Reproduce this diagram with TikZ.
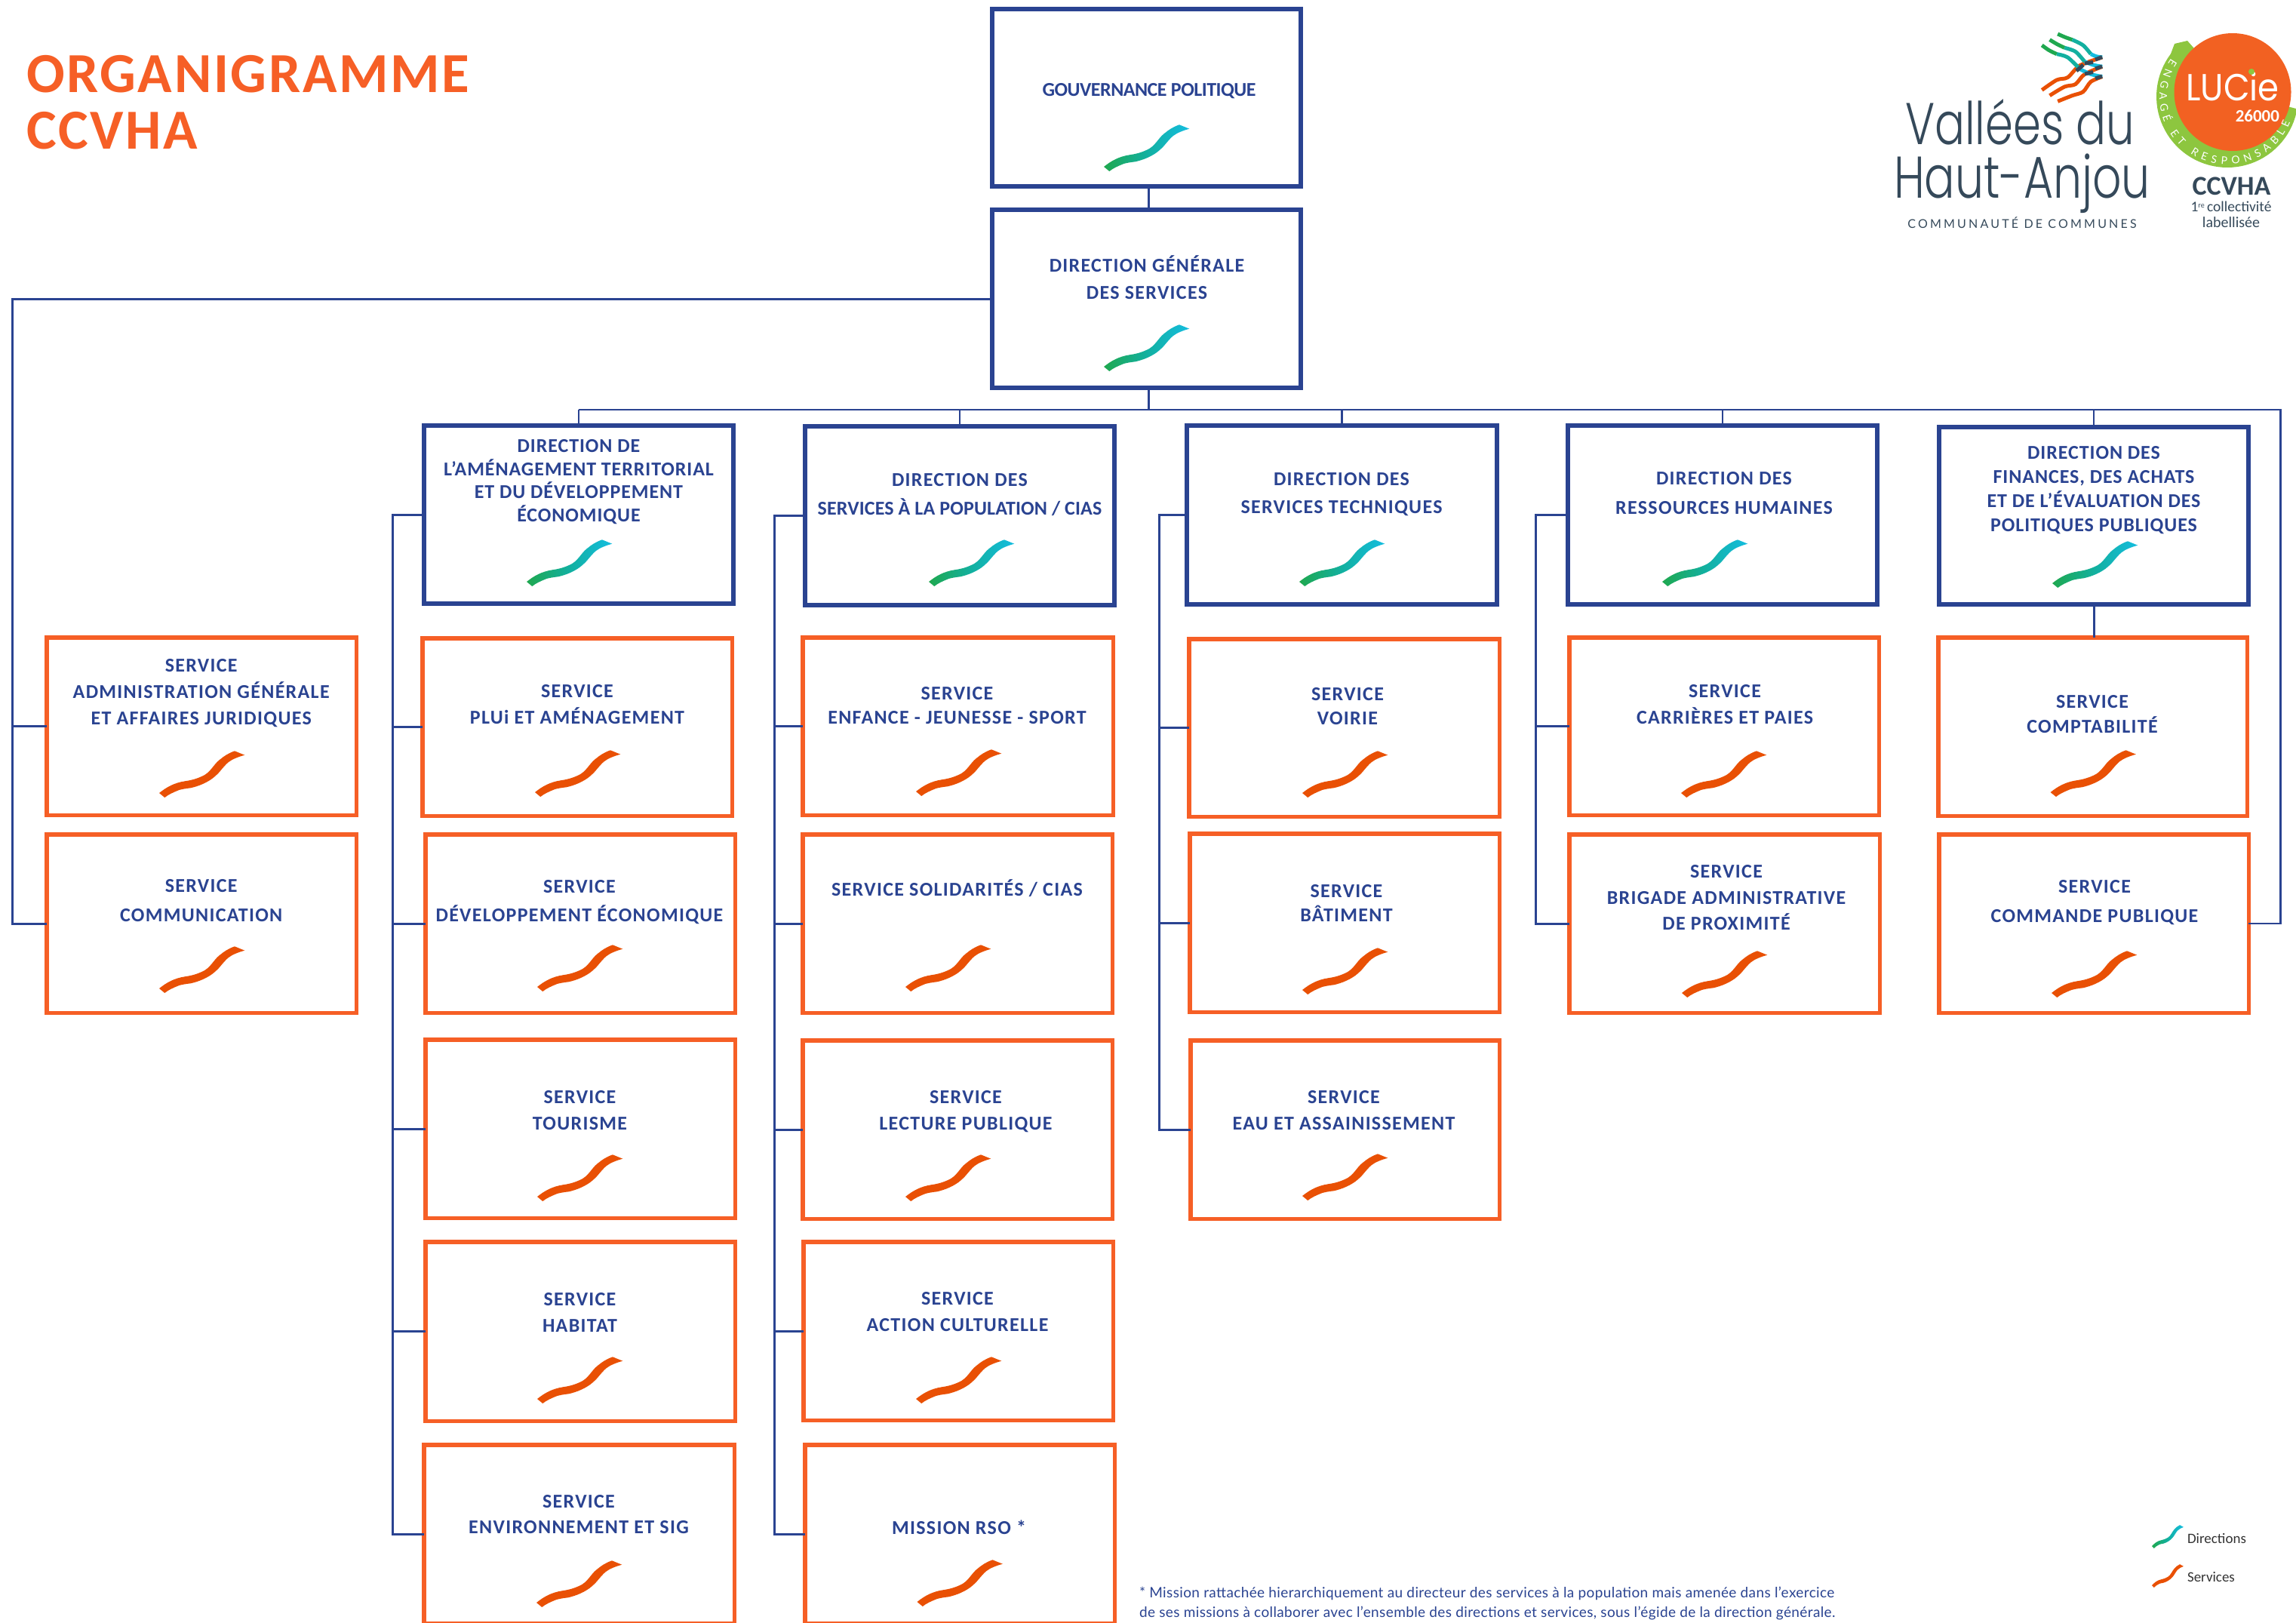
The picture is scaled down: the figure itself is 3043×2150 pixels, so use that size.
\documentclass[tikz,border=0pt]{standalone}
\usepackage{fontspec}
\usepackage{graphicx}
\usetikzlibrary{decorations.text}
\setmainfont{Carlito}
\newfontfamily\lblf{Carlito}[LetterSpace=5]
\newfontfamily\midf{Carlito}[LetterSpace=3.5]
\newfontfamily\narf{Carlito}[LetterSpace=0.5]
\newfontfamily\tightf{Carlito}[LetterSpace=-2]
\newfontfamily\titlef{Carlito}[LetterSpace=3.5]
\newfontfamily\notef{Lato}[LetterSpace=2]
\newfontfamily\logof{Poppins Light}
\newfontfamily\lucieword{Poppins}
\newfontfamily\logosmall{Lato}[LetterSpace=20]
\newfontfamily\luciefam{Lato}
\newcommand{\lucief}{\luciefam\fontsize{14}{14}\selectfont}
\definecolor{navy}{HTML}{2A4391}
\definecolor{boxor}{HTML}{F65F26}
\definecolor{waveor}{HTML}{E95004}
\definecolor{wgreen}{HTML}{1FA84F}
\definecolor{wcyan}{HTML}{14BDE0}
\definecolor{wmid}{HTML}{12B0A0}
\definecolor{slate}{HTML}{35495A}
\definecolor{lgreen}{HTML}{8DC63F}
\definecolor{badge}{HTML}{F26122}
\tikzset{
  dirbox/.style={draw=navy,line width=6pt,fill=white,inner sep=0pt,outer sep=0pt},
  svcbox/.style={draw=boxor,line width=5.5pt,fill=white,inner sep=0pt,outer sep=0pt},
  conn/.style={draw=navy,line width=3pt},
  thinconn/.style={draw=navy,line width=2.5pt},
  lbl/.style={text=navy,align=center,inner sep=0pt,outer sep=0pt},
  dirwave/.style={left color=wgreen,right color=wcyan,middle color=wmid,draw=none},
  svcwave/.style={fill=waveor,draw=none},
  plain/.style={inner sep=0pt,outer sep=0pt},
  logoor/.style={draw=waveor},
  logodark/.style={draw=slate,line width=5pt}
}
\newcommand{\mystrut}{\rule[-8pt]{0pt}{30pt}}
% name, style, x0, y0, x1, y1 (outer edges)
\newcommand{\bx}[6]{%
  \pgfmathsetmacro{\bxw}{#5-#3-5.5}\pgfmathsetmacro{\bxh}{#6-#4-5.5}%
  \pgfmathsetmacro{\bxx}{(#3+#5)/2}\pgfmathsetmacro{\bxy}{(#4+#6)/2}%
  \node[#2,minimum width=\bxw pt,minimum height=\bxh pt] (#1) at (\bxx,\bxy) {};}
% name, cx, cy of caps, line spacing, text
\newcommand{\lb}[5]{%
  \pgfmathsetmacro{\lby}{#3+3}%
  \node[lbl,font=\lblf\bfseries\fontsize{26}{#4}\selectfont] (#1) at (#2,\lby) {\lineskiplimit=-100pt\mystrut#5\mystrut};}
\newcommand{\lbm}[5]{%
  \pgfmathsetmacro{\lby}{#3+3}%
  \node[lbl,font=\midf\bfseries\fontsize{26}{#4}\selectfont] (#1) at (#2,\lby) {\lineskiplimit=-100pt\mystrut#5\mystrut};}
\newcommand{\wavepath}{(0,-6) .. controls (10,-14) and (20,-19.5) .. (34,-21.7) .. controls (43,-23) and (50,-25) .. (57,-28.3) .. controls (68,-33) and (72,-44) .. (80,-50) .. controls (86,-55) and (92,-59) .. (100,-61.7) -- (113.3,-56.3) .. controls (105,-54) and (97,-51) .. (91.5,-46.7) .. controls (84,-40) and (80,-33) .. (74.2,-28.3) .. controls (65,-20) and (52,-15) .. (41.7,-12.7) .. controls (35,-12) and (30,-11) .. (26.4,-10) .. controls (19,-7) and (12,-4) .. (7.3,0) -- cycle}
\newcommand{\dw}[2]{\path[dirwave,shift={(#1,#2)}] \wavepath;}
\newcommand{\sw}[2]{\path[svcwave,shift={(#1,#2)}] \wavepath;}
\begin{document}
\begin{tikzpicture}[x=1pt,y=-1pt]
\useasboundingbox (0,0) rectangle (3043,2150);
\clip (0,0) rectangle (3043,2150);
% title
\node[plain,anchor=west,text=boxor,font=\titlef\bfseries\fontsize{75}{75}\selectfont] (title1) at (35,98.5) {ORGANIGRAMME};
\node[plain,anchor=west,text=boxor,font=\titlef\bfseries\fontsize{75}{75}\selectfont] (title2) at (35,173) {CCVHA};
% boxes
\bx{gov}{dirbox}{1312}{9}{1727}{250}
\bx{dg}{dirbox}{1312}{275}{1727}{517}
\bx{dirA}{dirbox}{559}{561}{975}{803}
\bx{dirB}{dirbox}{1064}{562}{1480}{805}
\bx{dirC}{dirbox}{1570}{561}{1987}{804}
\bx{dirD}{dirbox}{2075}{561}{2491}{804}
\bx{dirE}{dirbox}{2567}{563}{2983}{804}
\bx{admin}{svcbox}{59}{842}{475}{1083}
\bx{comm}{svcbox}{59}{1103}{475}{1345}
\bx{plui}{svcbox}{557}{843}{973}{1084}
\bx{dev}{svcbox}{561}{1103}{977}{1345}
\bx{tour}{svcbox}{561}{1375}{977}{1617}
\bx{hab}{svcbox}{561}{1643}{977}{1886}
\bx{env}{svcbox}{559}{1912}{976}{2154}
\bx{enf}{svcbox}{1061}{842}{1478}{1083}
\bx{sol}{svcbox}{1061}{1103}{1477}{1345}
\bx{lect}{svcbox}{1061}{1376}{1477}{1618}
\bx{act}{svcbox}{1062}{1643}{1478}{1885}
\bx{rso}{svcbox}{1064}{1912}{1480}{2154}
\bx{voi}{svcbox}{1573}{844}{1990}{1085}
\bx{bat}{svcbox}{1574}{1102}{1990}{1344}
\bx{eau}{svcbox}{1575}{1376}{1990}{1618}
\bx{car}{svcbox}{2077}{842}{2493}{1083}
\bx{bri}{svcbox}{2077}{1103}{2494}{1345}
\bx{cpt}{svcbox}{2566}{842}{2981}{1084}
\bx{cmd}{svcbox}{2567}{1103}{2983}{1345}
% connector anchors
\coordinate (busY) at (0,543);
\coordinate (leftX) at (16,0);
\coordinate (trA) at (520,0);
\coordinate (trB) at (1026,0);
\coordinate (trC) at (1536,0);
\coordinate (trD) at (2035,0);
\coordinate (trE) at (3022.5,0);
\coordinate (axis) at (1522,0);
% connectors
\draw[conn] (axis |- gov.south) -- (axis |- dg.north);
\draw[conn] (axis |- dg.south) -- (axis |- busY);
\draw[thinconn] (dirA.north |- busY) -- (dirA.north);
\draw[thinconn] (dirA.north |- busY) -- (trE |- busY) -- (trE |- cmd.east) -- (cmd.east);
\draw[thinconn] (dirB.north |- busY) -- (dirB.north);
\draw[thinconn] (dirC.north |- busY) -- (dirC.north);
\draw[thinconn] (dirD.north |- busY) -- (dirD.north);
\draw[thinconn] (dirE.north |- busY) -- (dirE.north);
\draw[conn] (dirE.south) -- (dirE.south |- cpt.north);
\draw[conn] (dg.west) -- (leftX |- dg.west) -- (leftX |- comm.west) -- (comm.west);
\draw[conn] (admin.west) -- (leftX |- admin.west);
\draw[conn] (dirA.west) -- (trA |- dirA.west) -- (trA |- env.west) -- (env.west);
\foreach \n in {plui,dev,tour,hab} \draw[conn] (\n.west) -- (trA |- \n.west);
\draw[conn] (dirB.west) -- (trB |- dirB.west) -- (trB |- rso.west) -- (rso.west);
\foreach \n in {enf,sol,lect,act} \draw[conn] (\n.west) -- (trB |- \n.west);
\draw[conn] (dirC.west) -- (trC |- dirC.west) -- (trC |- eau.west) -- (eau.west);
\foreach \n in {voi,bat} \draw[conn] (\n.west) -- (trC |- \n.west);
\draw[conn] (dirD.west) -- (trD |- dirD.west) -- (trD |- bri.west) -- (bri.west);
\draw[conn] (car.west) -- (trD |- car.west);
% labels
\node[lbl,font=\tightf\bfseries\fontsize{26}{26}\selectfont] (tgov) at (1523,120) {\mystrut GOUVERNANCE POLITIQUE\mystrut};
\lb{tdg}{1520}{368}{36}{DIRECTION GÉNÉRALE\\DES SERVICES}
\lbm{tdirA}{767}{635.5}{30.5}{DIRECTION DE\\L’AMÉNAGEMENT TERRITORIAL\\ET DU DÉVELOPPEMENT\\ÉCONOMIQUE}
\lb{tdirB}{1272}{653}{38}{DIRECTION DES\\{\narf SERVICES À LA POPULATION / CIAS}}
\lb{tdirC}{1778}{652}{37.5}{DIRECTION DES\\SERVICES TECHNIQUES}
\lb{tdirD}{2285}{652}{39}{DIRECTION DES\\RESSOURCES HUMAINES}
\lbm{tdirE}{2775}{646.7}{32}{DIRECTION DES\\FINANCES, DES ACHATS\\ET DE L’ÉVALUATION DES\\POLITIQUES PUBLIQUES}
\lb{tadmin}{266.7}{915}{35}{SERVICE\\ADMINISTRATION GÉNÉRALE\\ET AFFAIRES JURIDIQUES}
\lb{tcomm}{266.7}{1191.5}{39}{SERVICE\\COMMUNICATION}
\lb{tplui}{765}{932}{35}{SERVICE\\PLUi ET AMÉNAGEMENT}
\lb{tdev}{768}{1192}{38}{SERVICE\\DÉVELOPPEMENT ÉCONOMIQUE}
\lb{ttour}{768.5}{1470}{35}{SERVICE\\TOURISME}
\lb{thab}{768.5}{1737.5}{35}{SERVICE\\HABITAT}
\lb{tenv}{767}{2005}{34}{SERVICE\\ENVIRONNEMENT ET SIG}
\lb{tenf}{1268.5}{933.5}{32}{SERVICE\\ENFANCE - JEUNESSE - SPORT}
\lb{tsol}{1268.5}{1177.5}{36}{SERVICE SOLIDARITÉS / CIAS}
\lb{tlect}{1280}{1470}{35}{SERVICE\\LECTURE PUBLIQUE}
\lb{tact}{1269}{1736.5}{35}{SERVICE\\ACTION CULTURELLE}
\lb{trso}{1271}{2023}{36}{MISSION RSO *}
\lb{tvoi}{1786}{934.5}{32}{SERVICE\\VOIRIE}
\lb{tbat}{1784.5}{1195.5}{32}{SERVICE\\BÂTIMENT}
\lb{teau}{1781}{1469.5}{35}{SERVICE\\EAU ET ASSAINISSEMENT}
\lb{tcar}{2286}{932}{35}{SERVICE\\CARRIÈRES ET PAIES}
\lb{tbri}{2288}{1188}{34.5}{SERVICE\\BRIGADE ADMINISTRATIVE\\DE PROXIMITÉ}
\lb{tcpt}{2773}{945}{32.5}{SERVICE\\COMPTABILITÉ}
\lb{tcmd}{2776}{1193}{38.5}{SERVICE\\COMMANDE PUBLIQUE}
% waves
\dw{1463}{227}\dw{1463}{492}\dw{698}{777}\dw{1231}{777}\dw{1722}{777}\dw{2203}{777}\dw{2720}{779}
\sw{211}{1057}\sw{211}{1316}\sw{709}{1056}\sw{712}{1314}\sw{712}{1592}\sw{712}{1860}\sw{711}{2130}
\sw{1214}{1055}\sw{1200}{1314}\sw{1200}{1592}\sw{1214}{1860}\sw{1215.5}{2129}
\sw{1726}{1057}\sw{1726}{1318}\sw{1726}{1591}\sw{2228}{1057}\sw{2229}{1322}\sw{2717.6}{1056}\sw{2719}{1322}
% legend
\path[dirwave,shift={(2852,2052)},xscale=.37,yscale=.5] \wavepath;
\path[svcwave,shift={(2852,2104)},xscale=.37,yscale=.5] \wavepath;
\node[plain,anchor=west,text=black!80,font=\fontsize{19}{19}\selectfont] (legdir) at (2899,2039) {Directions};
\node[plain,anchor=west,text=black!80,font=\fontsize{19}{19}\selectfont] (legsvc) at (2899,2090) {Services};
% footnote
\node[plain,anchor=west,text=navy,font=\notef\fontsize{19}{19}\selectfont] (note1) at (1510,2112) {* Mission rattachée hierarchiquement au directeur des services à la population mais amenée dans l’exercice};
\node[plain,anchor=west,text=navy,font=\notef\fontsize{19}{19}\selectfont] (note2) at (1510,2138) {de ses missions à collaborer avec l’ensemble des directions et services, sous l’égide de la direction générale.};
% logo waves
\begin{scope}[shift={(2400,0)},x=0.41pt,y=-0.3333pt,line width=5pt]
\draw[logoor] plot[smooth] coordinates {(747,358)(795,318)(830,308)(870,260)(942,228)};
\draw[logoor] plot[smooth] coordinates {(772,380)(820,345)(855,335)(885,295)(942,265)};
\draw[logoor] plot[smooth] coordinates {(798,403)(845,380)(880,365)(905,325)(942,305)};
\draw[draw=wgreen] plot[smooth] coordinates {(798,135)(822,148)(845,158)};
\draw[draw=wmid] plot[smooth] coordinates {(845,158)(880,180)(905,215)};
\draw[draw=wcyan] plot[smooth] coordinates {(905,215)(922,224)(942,228)};
\draw[draw=wgreen] plot[smooth] coordinates {(772,158)(795,175)(820,190)};
\draw[draw=wmid] plot[smooth] coordinates {(820,190)(855,205)(885,245)};
\draw[draw=wcyan] plot[smooth] coordinates {(885,245)(912,258)(942,265)};
\draw[draw=wgreen] plot[smooth] coordinates {(747,180)(770,200)(795,215)};
\draw[draw=wmid] plot[smooth] coordinates {(795,215)(830,228)(870,275)};
\draw[draw=wcyan] plot[smooth] coordinates {(870,275)(905,295)(942,305)};
\end{scope}
\draw[logodark] (2752,94) -- (2761,86);
\draw[logodark] (2763,84) -- (2774,82.5);
\draw[logodark] (2777,79) -- (2786,75.5);
\draw[logodark] (2763,98) -- (2774,95.5);
\draw[logodark] (2777,91) -- (2786,88);
\draw[logodark] (2777,104) -- (2786,101);
% logo text
\node[plain,anchor=base,text=slate,font=\logof\fontsize{78}{78}\selectfont] (vallees) at (2677,191) {\scalebox{0.76}[1]{Vallées du}};
\node[plain,anchor=base,text=slate,font=\logof\fontsize{78}{78}\selectfont] (haut) at (2680,262) {\scalebox{0.77}[1]{Haut-Anjou}};
\node[plain,text=slate,font=\logosmall\fontsize{16}{16}\selectfont] (cc) at (2680,295) {COMMUNAUTÉ DE COMMUNES};
% badge
\path[fill=lgreen] (2899,54) -- (2882,58) -- plot[domain=143:370,samples=60] ({2952+94*cos(\x)},{128-94*sin(\x)}) -- (3043,144) -- (2959,122) -- cycle;
\path[fill=badge] (2959,122) ellipse[x radius=77.5,y radius=78];
\path[decorate,decoration={text along path,text={|\lucief\color{white}|ENGAGÉ ET RESPONSABLE},text align={fit to path}}] plot[domain=146:338,samples=50] ({2952+90*cos(\x)},{128-90*sin(\x)});
\node[plain,anchor=base,text=white,font=\lucieword\fontsize{50}{50}\selectfont] (lucie) at (2959,133) {\scalebox{0.9}[1]{LUCie}};
\path[fill=lgreen] (2984,95) circle[radius=4];
\node[plain,anchor=base east,text=white,font=\bfseries\fontsize{23}{23}\selectfont] (n26) at (3021,161) {26000};
\node[plain,text=slate,font=\bfseries\fontsize{36}{36}\selectfont] (ccvha) at (2957.5,247) {CCVHA};
\node[plain,text=slate,font=\fontsize{19.5}{19.5}\selectfont] (coll) at (2957,274) {1\raisebox{5pt}{\fontsize{10}{10}\selectfont re}\,collectivité};
\node[plain,text=slate,font=\fontsize{20}{20}\selectfont] (lab) at (2957,295) {labellisée};
\end{tikzpicture}
\end{document}
